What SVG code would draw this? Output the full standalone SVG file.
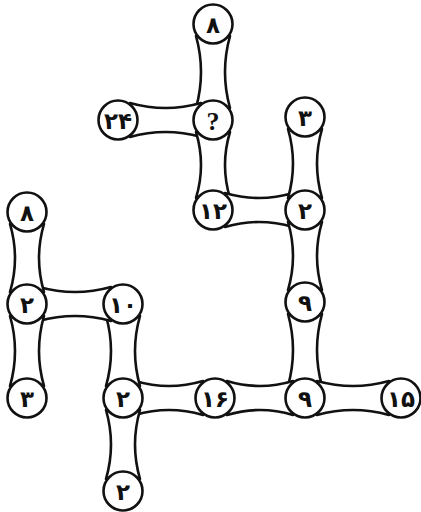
<svg xmlns="http://www.w3.org/2000/svg" width="421" height="512" viewBox="0 0 421 512">
<style>
.tube{fill:#fff;stroke:#111;stroke-width:2.6;stroke-linejoin:round}
.node circle{fill:#fff;stroke:#111;stroke-width:2.6}
.node text{font-family:"DejaVu Sans",sans-serif;font-weight:bold;font-size:23px;fill:#111;text-anchor:middle;dominant-baseline:central}
.node text.q{font-family:"Liberation Serif",serif;font-weight:bold;font-size:26px}
</style>
<rect width="421" height="512" fill="#fff"/>
<g id="connectors">
<path class="tube" d="M196,36 Q206,72 196,108 L230,108 Q220,72 230,36 Z"/>
<path class="tube" d="M130,103 Q165.5,113 201,103 L201,137 Q165.5,127 130,137 Z"/>
<path class="tube" d="M196,132 Q206,165 196,198 L230,198 Q220,165 230,132 Z"/>
<path class="tube" d="M225,193 Q259,203 293,193 L293,227 Q259,217 225,227 Z"/>
<path class="tube" d="M288,129 Q298,163.5 288,198 L322,198 Q312,163.5 322,129 Z"/>
<path class="tube" d="M288,222 Q298,256 288,290 L322,290 Q312,256 322,222 Z"/>
<path class="tube" d="M288,314 Q298,350 288,386 L322,386 Q312,350 322,314 Z"/>
<path class="tube" d="M227,381 Q260,391 293,381 L293,415 Q260,405 227,415 Z"/>
<path class="tube" d="M317,381 Q353,391 389,381 L389,415 Q353,405 317,415 Z"/>
<path class="tube" d="M135,381 Q169,391 203,381 L203,415 Q169,405 135,415 Z"/>
<path class="tube" d="M106,316 Q116,351 106,386 L140,386 Q130,351 140,316 Z"/>
<path class="tube" d="M106,410 Q116,444.5 106,479 L140,479 Q130,444.5 140,410 Z"/>
<path class="tube" d="M39,287 Q75,297 111,287 L111,321 Q75,311 39,321 Z"/>
<path class="tube" d="M10,224 Q20,258 10,292 L44,292 Q34,258 44,224 Z"/>
<path class="tube" d="M10,316 Q20,351 10,386 L44,386 Q34,351 44,316 Z"/>
</g>
<g id="n8t" class="node"><circle cx="213" cy="24" r="19.5"/><text x="213" y="25">۸</text></g>
<g id="n24" class="node"><circle cx="118" cy="120" r="19.5"/><text x="118" y="121">۲۴</text></g>
<g id="nq" class="node"><circle cx="213" cy="120" r="19.5"/><text class="q" x="213" y="121">?</text></g>
<g id="n12" class="node"><circle cx="213" cy="210" r="19.5"/><text x="213" y="211">۱۲</text></g>
<g id="n3r" class="node"><circle cx="305" cy="117" r="19.5"/><text x="305" y="118">۳</text></g>
<g id="n2r" class="node"><circle cx="305" cy="210" r="19.5"/><text x="305" y="211">۲</text></g>
<g id="n9a" class="node"><circle cx="305" cy="302" r="19.5"/><text x="305" y="303">۹</text></g>
<g id="n9b" class="node"><circle cx="305" cy="398" r="19.5"/><text x="305" y="399">۹</text></g>
<g id="n15" class="node"><circle cx="401" cy="398" r="19.5"/><text x="401" y="399">۱۵</text></g>
<g id="n16" class="node"><circle cx="215" cy="398" r="19.5"/><text x="215" y="399">۱۶</text></g>
<g id="n2m" class="node"><circle cx="123" cy="398" r="19.5"/><text x="123" y="399">۲</text></g>
<g id="n10" class="node"><circle cx="123" cy="304" r="19.5"/><text x="123" y="305">۱۰</text></g>
<g id="n2b" class="node"><circle cx="123" cy="491" r="19.5"/><text x="123" y="492">۲</text></g>
<g id="n8l" class="node"><circle cx="27" cy="212" r="19.5"/><text x="27" y="213">۸</text></g>
<g id="n2l" class="node"><circle cx="27" cy="304" r="19.5"/><text x="27" y="305">۲</text></g>
<g id="n3l" class="node"><circle cx="27" cy="398" r="19.5"/><text x="27" y="399">۳</text></g>
</svg>
